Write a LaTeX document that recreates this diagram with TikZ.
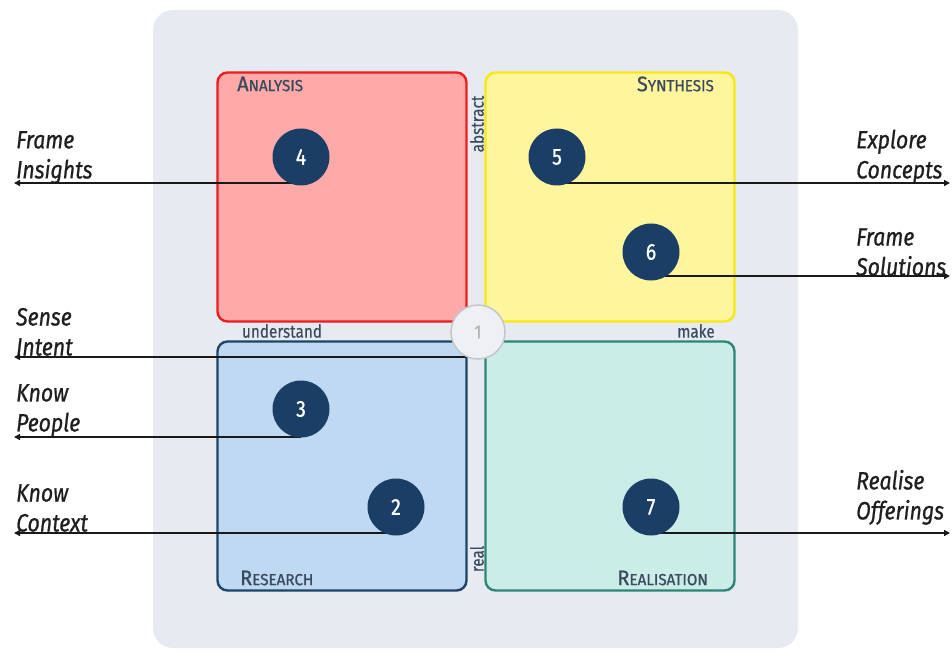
\documentclass[tikz,border=0pt]{standalone}
\usepackage{fontspec}
\setmainfont{Fira Sans}
\newfontfamily\labfont{Fira Sans}[FakeStretch=0.85, FakeBold=0.8]
\newfontfamily\ttlfont{Fira Sans}[FakeStretch=0.95, FakeBold=0.8]
\newfontfamily\axfont{Fira Sans}[FakeStretch=0.85, FakeBold=0.3]
\usetikzlibrary{arrows.meta}
\definecolor{panelc}{HTML}{E7EAF0}
\definecolor{anfill}{HTML}{FFAAA8}
\definecolor{andraw}{HTML}{EE1C1C}
\definecolor{syfill}{HTML}{FFF59C}
\definecolor{sydraw}{HTML}{F7E814}
\definecolor{refill}{HTML}{BED9F1}
\definecolor{redraw}{HTML}{1F4467}
\definecolor{rlfill}{HTML}{CAEEE7}
\definecolor{rldraw}{HTML}{2E8577}
\definecolor{navy}{HTML}{1B3E66}
\definecolor{titlec}{HTML}{3A4A5E}
\definecolor{onefill}{HTML}{EEF0F3}
\definecolor{onedraw}{HTML}{C3C6CC}
\newcommand\fsc[2]{{\fontsize{21}{21}\selectfont #1}{\fontsize{16}{16}\selectfont #2}}
\tikzset{
  quad/.style={rectangle, rounded corners=10pt, line width=2.4pt, minimum size=249pt, inner sep=0pt},
  qtitle/.style={text=titlec, font=\ttlfont, inner sep=0pt},
  axis/.style={text=titlec, font=\axfont\fontsize{18}{18}\selectfont, inner sep=0pt},
  lab/.style={text=black!88, font=\labfont\itshape\fontsize{25}{30}\selectfont, inner sep=0pt, align=left},
  num/.style={circle, fill=navy, minimum size=57pt, inner sep=0pt, text=white, font=\labfont\fontsize{23}{23}\selectfont},
  conn/.style={line width=1.9pt, black!90, -{Triangle[length=6pt,width=6pt]}}
}
\begin{document}
\begin{tikzpicture}[x=1pt,y=-1pt]
\useasboundingbox (0,0) rectangle (952,652);
\fill[panelc, rounded corners=20pt] (153,10) rectangle (798,648);
% quadrants
\node[quad, fill=anfill, draw=andraw] (an) at (342,197) {};
\node[quad, fill=syfill, draw=sydraw] (sy) at (610,197) {};
\node[quad, fill=refill, draw=redraw] (re) at (342,466) {};
\node[quad, fill=rlfill, draw=rldraw] (rl) at (610,466) {};
% titles
\node[qtitle, anchor=west] (tan) at (237,84) {\fsc{A}{NALYSIS}};
\node[qtitle, anchor=east] (tsy) at (714,84) {\fsc{S}{YNTHESIS}};
\node[qtitle, anchor=west] (tre) at (240,578) {\fsc{R}{ESEARCH}};
\node[qtitle, anchor=east] (trl) at (708,578) {\fsc{R}{EALISATION}};
% axis words
\node[axis] (und) at (282,331) {understand};
\node[axis] (mak) at (696,331) {make};
\node[axis, rotate=90] (abs) at (477,124) {abstract};
\node[axis, rotate=90] (rea) at (477,559) {real};
% side labels
\node[lab, anchor=south west] (lfi) at (16,184) {Frame\\Insights};
\node[lab, anchor=south west] (lsi) at (16,356) {Sense\\Intent};
\node[lab, anchor=south west] (lkp) at (16,437) {Know\\People};
\node[lab, anchor=south west] (lkc) at (16,532) {Know\\Context};
\node[lab, anchor=south west] (lec) at (856,184) {Explore\\Concepts};
\node[lab, anchor=south west] (lfs) at (856,276) {Frame\\Solutions};
\node[lab, anchor=south west] (lro) at (856,525) {Realise\\Offerings};
% free ends
\coordinate (efi) at (14,183);
\coordinate (esi) at (14,357);
\coordinate (ekp) at (14,437);
\coordinate (ekc) at (14,533);
\coordinate (eec) at (950,183);
\coordinate (efs) at (950,276);
\coordinate (ero) at (950,533);
% circle positions
\path (301,157) coordinate (p4) (557,157) coordinate (p5) (651,252) coordinate (p6)
      (301,409) coordinate (p3) (396,507) coordinate (p2) (651,507) coordinate (p7)
      (478,332) coordinate (p1);
\node[circle, minimum size=54pt] (c1) at (p1) {};
\node[circle, minimum size=57pt] (c4) at (p4) {};
\node[circle, minimum size=57pt] (c5) at (p5) {};
\node[circle, minimum size=57pt] (c6) at (p6) {};
\node[circle, minimum size=57pt] (c3) at (p3) {};
\node[circle, minimum size=57pt] (c2) at (p2) {};
\node[circle, minimum size=57pt] (c7) at (p7) {};
% connectors
\draw[conn] (c4.center |- efi) -- (efi);
\draw[conn] (c1.center |- esi) -- (esi);
\draw[conn] (c3.center |- ekp) -- (ekp);
\draw[conn] (c2.center |- ekc) -- (ekc);
\draw[conn] (c5.center |- eec) -- (eec);
\draw[conn] (c6.center |- efs) -- (efs);
\draw[conn] (c7.center |- ero) -- (ero);
% circles on top
\node[num] (n4) at (c4) {4};
\node[num] (n5) at (c5) {5};
\node[num] (n6) at (c6) {6};
\node[num] (n3) at (c3) {3};
\node[num] (n2) at (c2) {2};
\node[num] (n7) at (c7) {7};
\node[circle, minimum size=54pt, inner sep=0pt, fill=onefill, draw=onedraw, line width=1.5pt, text=black!30, font=\axfont\fontsize{19}{19}\selectfont] (n1) at (c1) {1};
\end{tikzpicture}
\end{document}
